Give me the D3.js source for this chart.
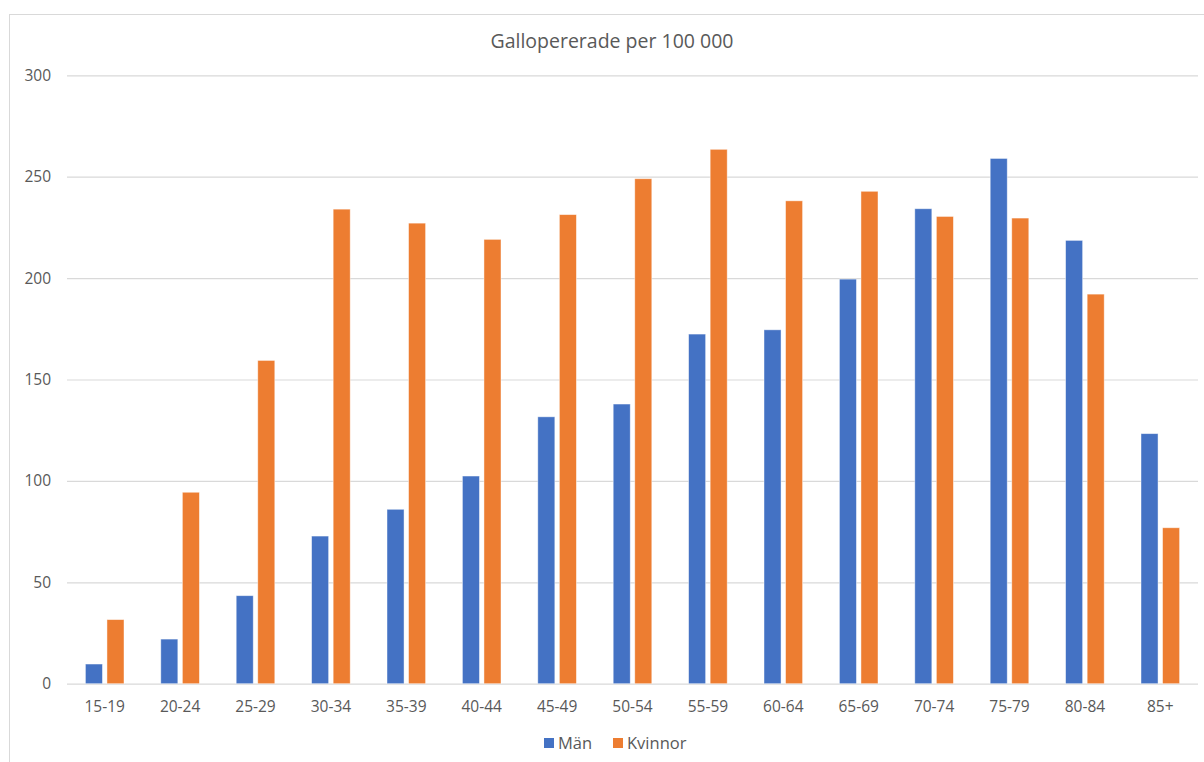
<!DOCTYPE html>
<html>
<head>
<meta charset="utf-8">
<script src="https://cdn.jsdelivr.net/npm/d3@7/dist/d3.min.js"></script>
<style>
  html, body { margin: 0; padding: 0; background: #fff; }
  svg { display: block; font-family: "Open Sans", "Noto Sans", sans-serif; }
</style>
</head>
<body>
<svg id="chart" width="1204" height="762"></svg>
<script>
// Age groups and rates per 100 000
const categories = ["15-19","20-24","25-29","30-34","35-39","40-44","45-49","50-54","55-59","60-64","65-69","70-74","75-79","80-84","85+"];
const series = ["Män", "Kvinnor"];
const manValues = [9.7, 22.0, 43.4, 72.8, 86.0, 102.4, 131.6, 137.9, 172.4, 174.5, 199.5, 234.2, 259.0, 218.6, 123.3];
const kvinnorValues = [31.6, 94.4, 159.4, 234.0, 227.1, 219.1, 231.3, 249.0, 263.5, 238.1, 242.8, 230.4, 229.6, 192.1, 76.9];
const yTicks = [0, 50, 100, 150, 200, 250, 300];
const colors = { "Män": "#4472C4", "Kvinnor": "#ED7D31" };
const title = "Gallopererade per 100 000";

const svg = d3.select("#chart");
const W = 1204, H = 762;
const plot = { left: 67, right: 1198, top: 75.3, bottom: 683.7 };
const labelColor = "#595959";
const labelSize = "15.5px";

// outer chart frame
svg.append("rect")
  .attr("x", 9.5).attr("y", 14.5)
  .attr("width", W + 20).attr("height", H + 20)
  .attr("fill", "#fff").attr("stroke", "#d9d9d9").attr("stroke-width", 1);

const x0 = d3.scaleBand().domain(categories).range([plot.left, plot.right]).paddingInner(0).paddingOuter(0);
const inner = 18.4;
const x1 = d3.scaleBand().domain(series).range([inner, x0.bandwidth() - inner]).paddingInner(0.21);
const y = d3.scaleLinear().domain([0, 300]).range([plot.bottom, plot.top]);

// gridlines + y labels
const yAxis = d3.axisLeft(y).tickValues(yTicks).tickSize(-(plot.right - plot.left)).tickPadding(16);
const gy = svg.append("g").attr("transform", `translate(${plot.left},0)`).call(yAxis);
gy.select(".domain").remove();
gy.selectAll(".tick line").attr("stroke", "#d9d9d9").attr("stroke-width", 1.2);
gy.selectAll(".tick text").attr("fill", labelColor).style("font-size", labelSize)
  .style("font-family", "'Open Sans', sans-serif");

// bars
const rows = categories.map((c, i) => ({ cat: c, values: [
  { key: "Män", value: manValues[i] },
  { key: "Kvinnor", value: kvinnorValues[i] }
]}));

const groups = svg.append("g").selectAll("g").data(rows).join("g")
  .attr("transform", d => `translate(${x0(d.cat)},0)`);
groups.selectAll("rect").data(d => d.values).join("rect")
  .attr("x", d => x1(d.key))
  .attr("width", x1.bandwidth())
  .attr("y", d => y(d.value))
  .attr("height", d => y(0) - y(d.value))
  .attr("fill", d => colors[d.key])
  .attr("stroke", "#ffffff").attr("stroke-opacity", 0.55).attr("stroke-width", 0.8);

// x axis labels
const xAxis = d3.axisBottom(x0).tickSize(0).tickPadding(17);
const gx = svg.append("g").attr("transform", `translate(0,${plot.bottom})`).call(xAxis);
gx.select(".domain").remove();
gx.selectAll(".tick text").attr("fill", labelColor).style("font-size", labelSize)
  .style("font-family", "'Open Sans', sans-serif");

// title
svg.append("text")
  .attr("x", 612).attr("y", 48)
  .attr("text-anchor", "middle")
  .attr("fill", labelColor)
  .style("font-size", "19.5px")
  .text(title);

// legend
const legend = svg.append("g").attr("transform", "translate(544,738)");
const legendItems = [{ key: "Män", x: 0 }, { key: "Kvinnor", x: 69 }];
const li = legend.selectAll("g").data(legendItems).join("g")
  .attr("transform", d => `translate(${d.x},0)`);
li.append("rect").attr("width", 10).attr("height", 10).attr("fill", d => colors[d.key]);
li.append("text").attr("x", 14).attr("y", 10.5)
  .attr("fill", labelColor).style("font-size", "16.5px")
  .text(d => d.key);
</script>
</body>
</html>
